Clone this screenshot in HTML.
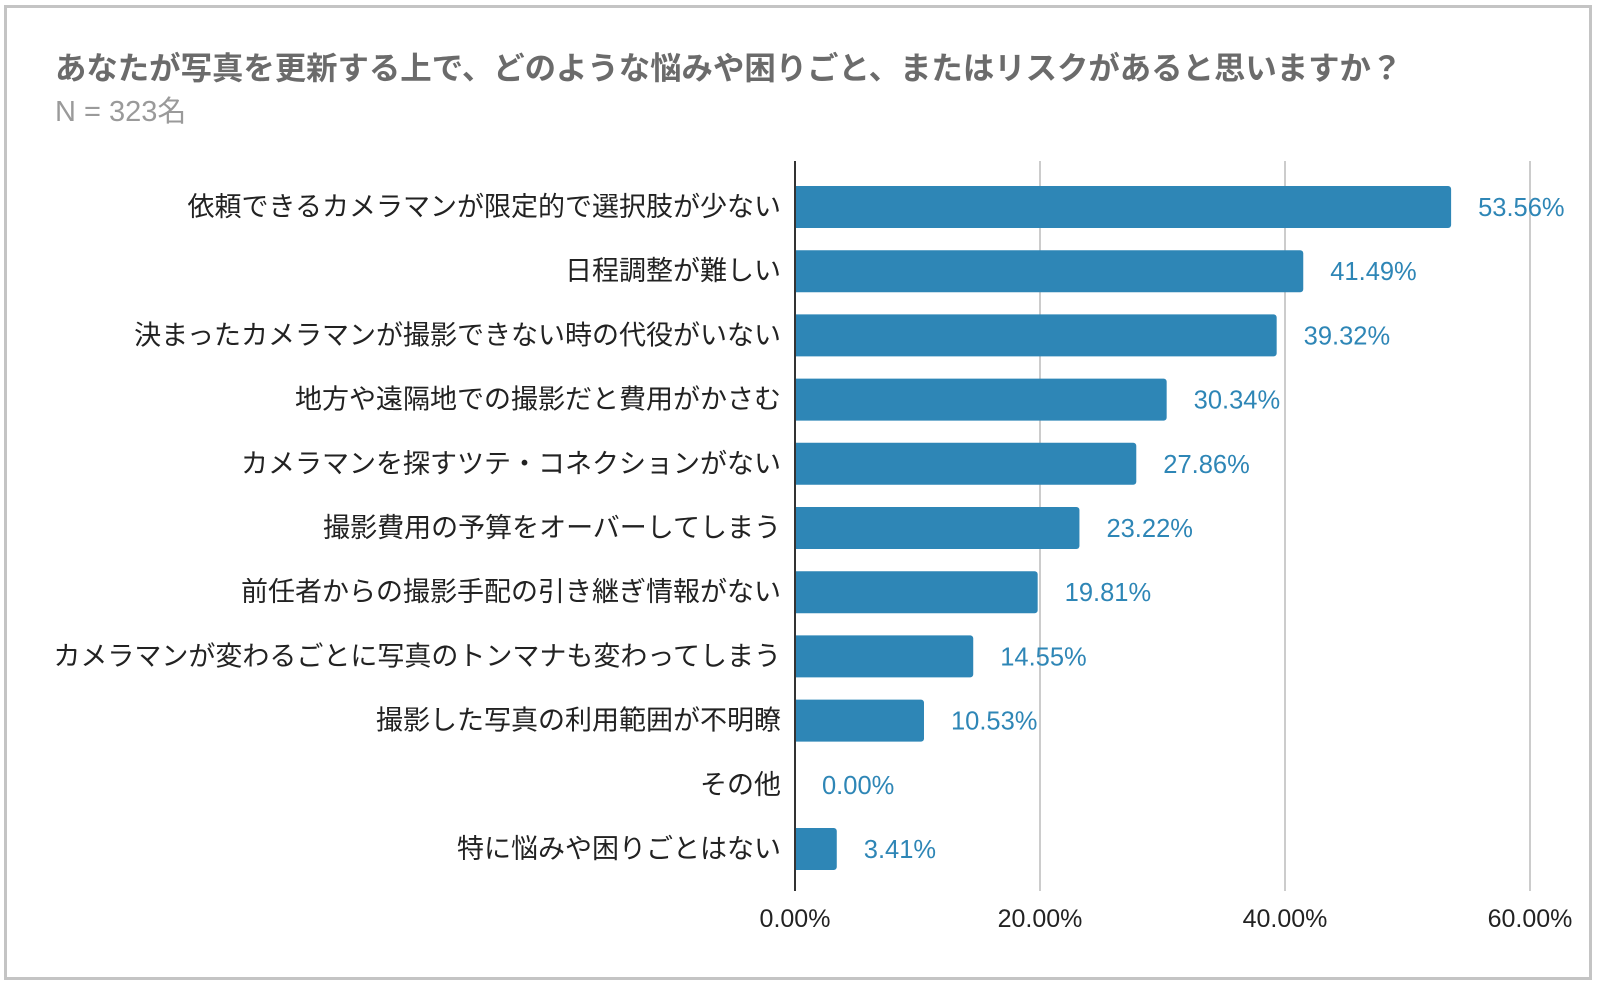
<!DOCTYPE html>
<html><head><meta charset="utf-8"><style>
html,body{margin:0;padding:0;background:#fff;}
body{width:1600px;height:990px;position:relative;overflow:hidden;font-family:"Liberation Sans","Noto Sans CJK JP",sans-serif;}
#frame{position:absolute;left:4px;top:5px;width:1588px;height:975px;border:3px solid #c4c4c4;box-sizing:border-box;}
</style></head><body>
<div id="frame"></div>
<svg id="chart" width="1600" height="990" style="position:absolute;left:0;top:0">
<text x="55" y="79" font-size="31.4" font-weight="bold" fill="#6b6b6b" font-family="Liberation Sans, Noto Sans CJK JP, sans-serif">あなたが写真を更新する上で、どのような悩みや困りごと、またはリスクがあると思いますか？</text>
<text x="55" y="121" font-size="29" fill="#9a9a9a" font-family="Liberation Sans, Noto Sans CJK JP, sans-serif">N = 323名</text>
</svg>
<script>
const categories=["依頼できるカメラマンが限定的で選択肢が少ない","日程調整が難しい","決まったカメラマンが撮影できない時の代役がいない","地方や遠隔地での撮影だと費用がかさむ","カメラマンを探すツテ・コネクションがない","撮影費用の予算をオーバーしてしまう","前任者からの撮影手配の引き継ぎ情報がない","カメラマンが変わるごとに写真のトンマナも変わってしまう","撮影した写真の利用範囲が不明瞭","その他","特に悩みや困りごとはない"];
const values=[53.56,41.49,39.32,30.34,27.86,23.22,19.81,14.55,10.53,0.00,3.41];
const ticks=[0,20,40,60];
const tickLabels=["0.00%","20.00%","40.00%","60.00%"];
const svg=document.getElementById('chart');
const NS='http://www.w3.org/2000/svg';
const X0=795,X1=1530,XMAX=60,TOP=161,BOT=891,ROW0=207,PITCH=64.2,BH=42;
const xs=v=>X0+(v/XMAX)*(X1-X0);
const ys=i=>ROW0+i*PITCH;
function mk(t,a){const e=document.createElementNS(NS,t);for(const k in a)e.setAttribute(k,a[k]);svg.appendChild(e);return e;}
ticks.forEach((t,i)=>{
 if(t>0){const g=mk('line',{x1:xs(t),x2:xs(t),y1:TOP,y2:BOT,stroke:'#cccccc','stroke-width':2});
 
 }
 const l=mk('text',{x:xs(t),y:927,'text-anchor':'middle','font-size':25,fill:'#222','font-family':'Liberation Sans, sans-serif'});
 l.textContent=tickLabels[i];
 
 
});
categories.forEach((c,i)=>{
 const y=ys(i),v=values[i];
 if(v>0){const w=xs(v)-X0;
 const r=mk('path',{d:`M${X0},${y-BH/2}h${w-3}a3,3 0 0 1 3,3v${BH-6}a3,3 0 0 1 -3,3h${-(w-3)}z`,fill:'#2e86b6'});
 
 }
 const lab=mk('text',{x:781,y:y+9,'text-anchor':'end','font-size':27,fill:'#222','font-family':'Liberation Sans, Noto Sans CJK JP, sans-serif'});
 lab.textContent=c;
 
 
 const vl=mk('text',{x:xs(v)+27,y:y+9,'font-size':25.5,fill:'#2e86b6','font-family':'Liberation Sans, sans-serif'});
 vl.textContent=v.toFixed(2)+'%';
 
 
});
const ax=mk('line',{x1:X0,x2:X0,y1:TOP,y2:BOT,stroke:'#333','stroke-width':2});


</script>
</body></html>
